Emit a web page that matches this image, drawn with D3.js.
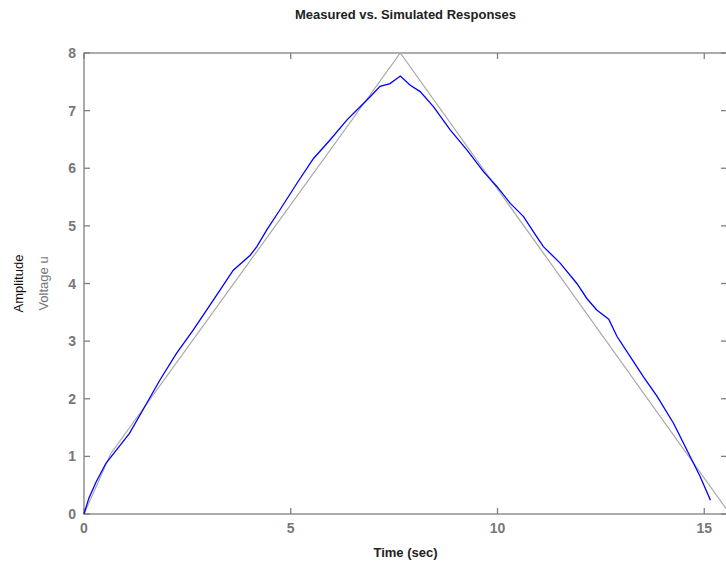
<!DOCTYPE html>
<html>
<head>
<meta charset="utf-8">
<script src="https://cdn.jsdelivr.net/npm/d3@7"></script>
<style>
  body { margin: 0; background: #fff; }
  svg { font-family: "Liberation Sans", Arial, sans-serif; }
</style>
</head>
<body>
<svg id="chart" width="726" height="568"></svg>
<script>
// Simulated response (gray)
const simTime = [0, 0.65, 7.65, 15.62];
const simValue = [0, 1.05, 8, 0];

// Measured response (blue)
const measTime = [0, 0.12, 0.29, 0.53, 1.10, 1.42, 1.84, 2.24, 2.64, 3.05, 3.37, 3.61, 4.02, 4.18, 4.42,
  4.74, 5.15, 5.55, 5.95, 6.36, 6.60, 6.92, 7.16, 7.40, 7.65, 7.89, 8.13, 8.45, 8.86, 9.26, 9.66, 9.99,
  10.31, 10.63, 10.95, 11.11, 11.52, 11.92, 12.16, 12.40, 12.69, 12.89, 13.21, 13.53, 13.86, 14.26,
  14.58, 14.90, 15.15];
const measValue = [0, 0.28, 0.55, 0.88, 1.40, 1.80, 2.33, 2.79, 3.19, 3.63, 3.97, 4.23, 4.49, 4.64, 4.93,
  5.28, 5.74, 6.17, 6.49, 6.84, 7.01, 7.24, 7.42, 7.47, 7.60, 7.44, 7.33, 7.07, 6.66, 6.32, 5.94, 5.68,
  5.39, 5.16, 4.81, 4.64, 4.35, 4.00, 3.74, 3.54, 3.38, 3.08, 2.73, 2.38, 2.04, 1.57,
  1.11, 0.65, 0.24];

const xTicks = [0, 5, 10, 15];
const yTicks = [0, 1, 2, 3, 4, 5, 6, 7, 8];

const svg = d3.select("#chart");
const margin = { top: 53, right: -1, bottom: 54, left: 84 };
const width = 726 - margin.left - margin.right;
const height = 568 - margin.top - margin.bottom;

const x = d3.scaleLinear().domain([0, 15.55]).range([0, width]);
const y = d3.scaleLinear().domain([0, 8]).range([height, 0]);

const g = svg.append("g").attr("transform", `translate(${margin.left},${margin.top})`);

const axisColor = "#7f7f7f";
const tickLen = 6;

// Box
g.append("rect")
  .attr("x", 0).attr("y", 0)
  .attr("width", width).attr("height", height)
  .attr("fill", "none")
  .attr("stroke", axisColor)
  .attr("stroke-width", 1.3);

// Ticks (inward, all four sides)
xTicks.forEach(t => {
  g.append("line").attr("x1", x(t)).attr("x2", x(t)).attr("y1", height).attr("y2", height - tickLen)
    .attr("stroke", axisColor).attr("stroke-width", 1.3);
  g.append("line").attr("x1", x(t)).attr("x2", x(t)).attr("y1", 0).attr("y2", tickLen)
    .attr("stroke", axisColor).attr("stroke-width", 1.3);
  g.append("text")
    .attr("x", x(t)).attr("y", height + 19)
    .attr("text-anchor", "middle")
    .attr("font-size", 14).attr("font-weight", "bold")
    .attr("fill", "#777")
    .text(t);
});
yTicks.forEach(t => {
  g.append("line").attr("x1", 0).attr("x2", tickLen).attr("y1", y(t)).attr("y2", y(t))
    .attr("stroke", axisColor).attr("stroke-width", 1.3);
  g.append("line").attr("x1", width).attr("x2", width - tickLen).attr("y1", y(t)).attr("y2", y(t))
    .attr("stroke", axisColor).attr("stroke-width", 1.3);
  g.append("text")
    .attr("x", -8).attr("y", y(t) + 5)
    .attr("text-anchor", "end")
    .attr("font-size", 14).attr("font-weight", "bold")
    .attr("fill", "#777")
    .text(t);
});

const line = d3.line().x(d => x(d[0])).y(d => y(d[1]));

// Simulated (gray)
g.append("path")
  .datum(d3.zip(simTime, simValue))
  .attr("d", line)
  .attr("fill", "none")
  .attr("stroke", "#a8a8a8")
  .attr("stroke-width", 1.2);

// Measured (blue)
g.append("path")
  .datum(d3.zip(measTime, measValue))
  .attr("d", line)
  .attr("fill", "none")
  .attr("stroke", "#0000ff")
  .attr("stroke-width", 1.3);

// Title
svg.append("text")
  .attr("x", margin.left + width / 2).attr("y", 19)
  .attr("text-anchor", "middle")
  .attr("font-size", 13).attr("font-weight", "bold")
  .attr("fill", "#222")
  .text("Measured vs. Simulated Responses");

// X label
svg.append("text")
  .attr("x", margin.left + width / 2).attr("y", 557)
  .attr("text-anchor", "middle")
  .attr("font-size", 13).attr("font-weight", "bold")
  .attr("fill", "#222")
  .text("Time (sec)");

// Y labels
svg.append("text")
  .attr("transform", `translate(23, ${margin.top + height / 2}) rotate(-90)`)
  .attr("text-anchor", "middle")
  .attr("font-size", 13)
  .attr("fill", "#111")
  .text("Amplitude");

svg.append("text")
  .attr("transform", `translate(48, ${margin.top + height / 2}) rotate(-90)`)
  .attr("text-anchor", "middle")
  .attr("font-size", 13)
  .attr("fill", "#777")
  .text("Voltage u");
</script>
</body>
</html>
